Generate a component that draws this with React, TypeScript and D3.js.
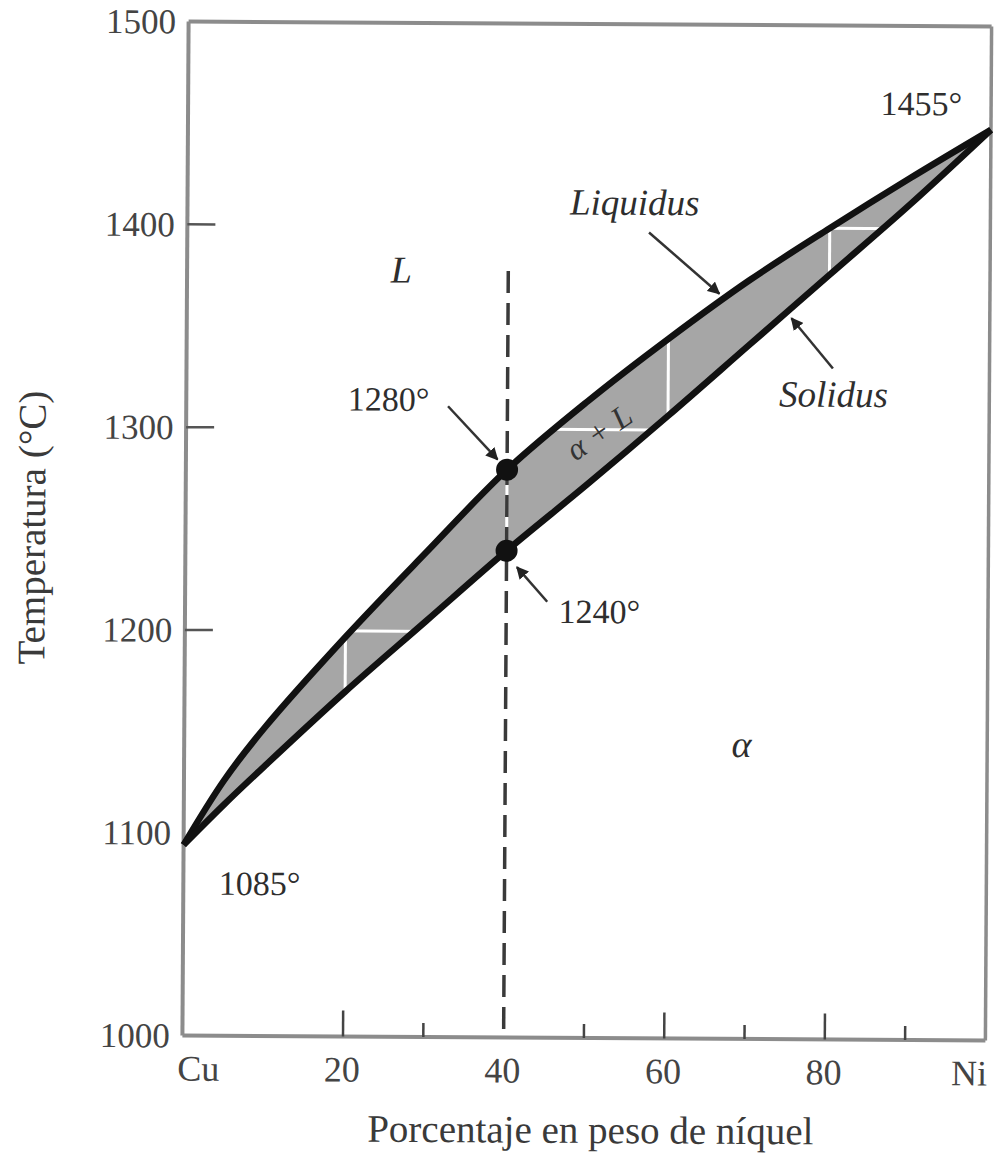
import React from "react";
import * as d3 from "d3";

// ---- Data ----
const nickelPct = [0, 5, 10, 20, 30, 40, 50, 60, 70, 80, 90, 100];
const liquidusT = [1094, 1126, 1152, 1197, 1239, 1280, 1314, 1345, 1374, 1400, 1425, 1449];
const solidusT = [1094, 1114, 1133, 1170, 1205, 1240, 1273, 1307, 1342, 1377, 1412, 1449];

const yTicks = [1000, 1100, 1200, 1300, 1400, 1500];
const yTickMarks = [1200, 1300, 1400];
const xTickLabels = [
  { v: 0, t: "Cu", anchor: "start" },
  { v: 20, t: "20", anchor: "middle" },
  { v: 40, t: "40", anchor: "middle" },
  { v: 60, t: "60", anchor: "middle" },
  { v: 80, t: "80", anchor: "middle" },
  { v: 100, t: "Ni", anchor: "end" },
];
const xMajorTicks = [20, 60, 80];
const xMinorTicks = [30, 50, 70, 90];
const gridX = [20, 40, 60, 80];
const gridT = [1200, 1300, 1400];

const alloyPct = 40;
const alloyTop = 1378;
const alloyPoints = [1280, 1240];

const annotations = [
  { x: 26.7, t: 1372, text: "L", italic: true, size: 38, anchor: "middle" },
  { x: 55.7, t: 1406, text: "Liquidus", italic: true, size: 37, anchor: "middle" },
  { x: 80.6, t: 1312, text: "Solidus", italic: true, size: 37, anchor: "middle" },
  { x: 96.4, t: 1456, text: "1455°", italic: false, size: 34, anchor: "end" },
  { x: 25.2, t: 1308.7, text: "1280°", italic: false, size: 34, anchor: "middle" },
  { x: 51.6, t: 1204.6, text: "1240°", italic: false, size: 34, anchor: "middle" },
  { x: 9.5, t: 1069.5, text: "1085°", italic: false, size: 34, anchor: "middle" },
  { x: 69.4, t: 1139, text: "α", italic: true, size: 38, anchor: "middle" },
];

const arrows = [
  { x1: 57.5, t1: 1397.4, x2: 66.3, t2: 1367.4 },
  { x1: 80.5, t1: 1330.9, x2: 75.3, t2: 1355.5 },
  { x1: 32.6, t1: 1311.1, x2: 38.8, t2: 1285 },
  { x1: 45.1, t1: 1215, x2: 41.3, t2: 1232 },
];

const twoPhaseLabel = { x: 51.4, t: 1298.8, text: "α + L", angle: -35 };

export default function App() {
  const W = 1008;
  const H = 1155;
  const x = d3.scaleLinear().domain([0, 100]).range([185.5, 988.5]);
  const y = d3.scaleLinear().domain([1000, 1500]).range([1038, 24]);

  const liq = nickelPct.map((p, i) => [p, liquidusT[i]] as [number, number]);
  const sol = nickelPct.map((p, i) => [p, solidusT[i]] as [number, number]);

  const curve = d3.curveCatmullRom.alpha(0.5);

  const line = d3
    .line<[number, number]>()
    .x((d) => x(d[0]))
    .y((d) => y(d[1]))
    .curve(curve);

  const area = d3
    .area<number>()
    .x((_, i) => x(nickelPct[i]))
    .y0((_, i) => y(solidusT[i]))
    .y1((_, i) => y(liquidusT[i]))
    .curve(curve);

  const bandPath = area(nickelPct) || "";
  const serif = "'Liberation Serif', 'Times New Roman', serif";
  const textColor = "#2e2e2e";
  const axisGray = "#8c8c8c";

  const x0 = x(0), x1 = x(100), yb = y(1000), yt = y(1500);

  return (
    <svg
      width={W}
      height={H}
      viewBox={`0 0 ${W} ${H}`}
      style={{ position: "absolute", left: 0, top: 0, background: "#fff" }}
      fontFamily={serif}
    >
      <defs>
        <clipPath id="band">
          <path d={bandPath} />
        </clipPath>
        <marker
          id="arrowhead"
          viewBox="0 0 10 10"
          refX="9"
          refY="5"
          markerWidth="5"
          markerHeight="5"
          orient="auto"
          markerUnits="strokeWidth"
        >
          <path d="M0,0 L10,5 L0,10 z" fill="#222" />
        </marker>
      </defs>
      <rect x={0} y={0} width={W} height={H} fill="#fff" />
      <g transform={`rotate(0.35 ${(x0 + x1) / 2} ${(yb + yt) / 2})`}>
        {/* frame */}
        <line x1={x0} y1={yt} x2={x1} y2={yt} stroke={axisGray} strokeWidth={4} />
        <line x1={x1} y1={yt} x2={x1} y2={yb} stroke={axisGray} strokeWidth={3.5} />
        <line x1={x0} y1={yt} x2={x0} y2={yb} stroke={axisGray} strokeWidth={4} />
        <line x1={x0} y1={yb} x2={x1} y2={yb} stroke={axisGray} strokeWidth={4} />

        {/* y ticks */}
        {yTickMarks.map((v) => (
          <line key={"yt" + v} x1={x0} x2={x0 + 28} y1={y(v)} y2={y(v)} stroke="#555" strokeWidth={2.5} />
        ))}
        {yTicks.map((v) => (
          <text
            key={"yl" + v}
            x={173}
            y={y(v) + 12}
            textAnchor="end"
            fontSize={35}
            fill="#444"
          >
            {v}
          </text>
        ))}

        {/* x ticks */}
        {xMajorTicks.map((v) => (
          <line key={"xM" + v} x1={x(v)} x2={x(v)} y1={yb} y2={yb - 26} stroke="#444" strokeWidth={2.5} />
        ))}
        {xMinorTicks.map((v) => (
          <line key={"xm" + v} x1={x(v)} x2={x(v)} y1={yb} y2={yb - 14} stroke="#444" strokeWidth={2.5} />
        ))}
        {xTickLabels.map((d) => (
          <text
            key={"xl" + d.v}
            x={d.anchor === "start" ? x(d.v) - 5 : d.anchor === "end" ? x(d.v) + 2 : x(d.v) - 1}
            y={1083}
            textAnchor={d.anchor as any}
            fontSize={36}
            fill="#444"
          >
            {d.t}
          </text>
        ))}

        {/* axis titles */}
        <text x={594} y={1143} textAnchor="middle" fontSize={39} fill="#3a3a3a">
          Porcentaje en peso de níquel
        </text>
        <text
          transform={`translate(45, 531) rotate(-90)`}
          textAnchor="middle"
          fontSize={39}
          fill="#3a3a3a"
        >
          Temperatura (°C)
        </text>

        {/* two-phase band */}
        <path d={bandPath} fill="#a6a6a6" />
        <g clipPath="url(#band)">
          {gridX.map((v) => (
            <line key={"gx" + v} x1={x(v)} x2={x(v)} y1={y(1000)} y2={y(1500)} stroke="#fff" strokeWidth={3} />
          ))}
          {gridT.map((v) => (
            <line key={"gt" + v} x1={x(0)} x2={x(100)} y1={y(v)} y2={y(v)} stroke="#fff" strokeWidth={3} />
          ))}
        </g>

        {/* alloy composition dashed line */}
        <line
          x1={x(alloyPct)}
          x2={x(alloyPct)}
          y1={y(alloyTop)}
          y2={yb}
          stroke="#3a3a3a"
          strokeWidth={3.5}
          strokeDasharray="22 10"
        />

        {/* liquidus and solidus */}
        <path d={line(liq) || ""} fill="none" stroke="#111" strokeWidth={6.5} strokeLinejoin="round" />
        <path d={line(sol) || ""} fill="none" stroke="#111" strokeWidth={6.5} strokeLinejoin="round" />

        {/* points */}
        {alloyPoints.map((t) => (
          <circle key={"pt" + t} cx={x(alloyPct)} cy={y(t)} r={11} fill="#111" />
        ))}

        {/* arrows */}
        {arrows.map((a, i) => (
          <line
            key={"ar" + i}
            x1={x(a.x1)}
            y1={y(a.t1)}
            x2={x(a.x2)}
            y2={y(a.t2)}
            stroke="#333"
            strokeWidth={2.5}
            markerEnd="url(#arrowhead)"
          />
        ))}

        {/* annotations */}
        {annotations.map((a, i) => (
          <text
            key={"an" + i}
            x={x(a.x)}
            y={y(a.t)}
            textAnchor={a.anchor as any}
            fontSize={a.size}
            fontStyle={a.italic ? "italic" : "normal"}
            fill={textColor}
          >
            {a.text}
          </text>
        ))}
        <text
          transform={`translate(${x(twoPhaseLabel.x)}, ${y(twoPhaseLabel.t)}) rotate(${twoPhaseLabel.angle})`}
          textAnchor="middle"
          dominantBaseline="central"
          fontSize={32}
          fontStyle="italic"
          fill="#333"
        >
          {twoPhaseLabel.text}
        </text>
      </g>
    </svg>
  );
}
